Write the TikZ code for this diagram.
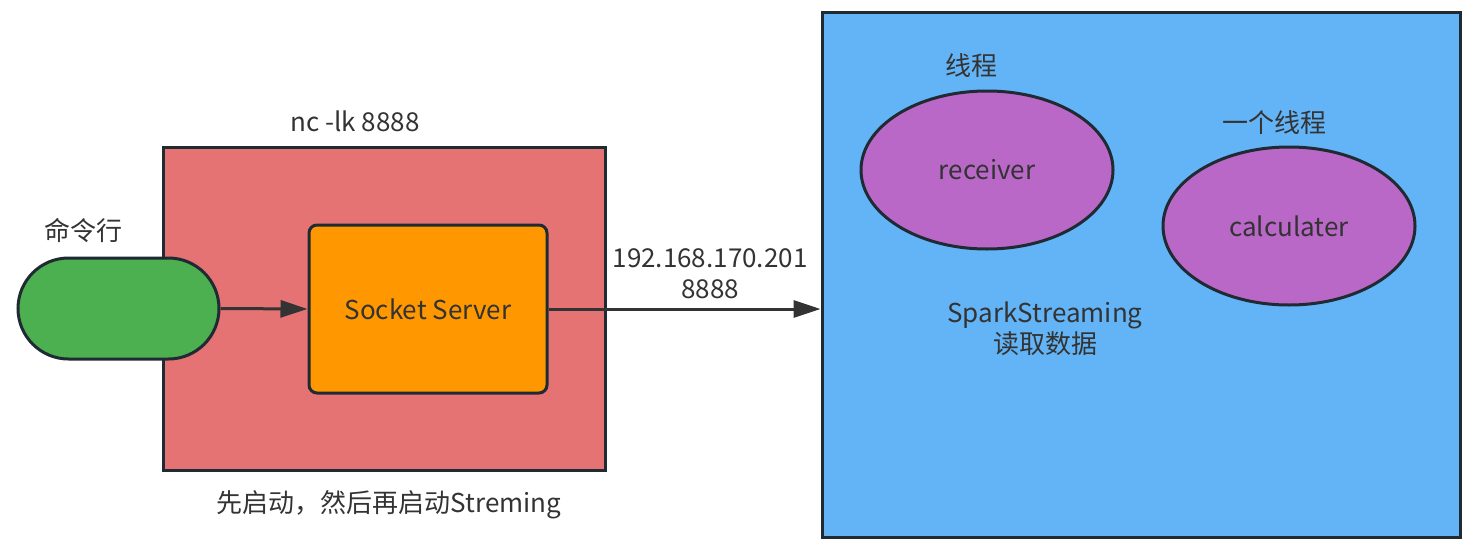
\documentclass[tikz,border=0pt]{standalone}
\usepackage{fontspec}
\setmainfont{Noto Sans CJK SC}
\usetikzlibrary{arrows.meta,shapes.geometric,shapes.misc}
\definecolor{strk}{HTML}{1F2A33}
\definecolor{txt}{HTML}{333333}
\definecolor{redf}{HTML}{E57373}
\definecolor{orgf}{HTML}{FF9800}
\definecolor{grnf}{HTML}{4CAF50}
\definecolor{bluf}{HTML}{63B4F6}
\definecolor{purf}{HTML}{BA68C8}
\tikzset{
  shp/.style={draw=strk, line width=3pt},
  lbl/.style={text=txt, font=\fontsize{26}{31}\selectfont, align=center, inner sep=0pt},
  conn/.style={draw=txt, line width=3pt, -{Triangle[length=27pt,width=17pt]}},
  oval/.style={shp, ellipse, fill=purf, minimum width=252pt, minimum height=158pt, inner sep=0pt}
}
\begin{document}
\begin{tikzpicture}[x=1pt,y=-1pt]
\useasboundingbox (0,0) rectangle (1480,551);
% red container
\node[shp, fill=redf, minimum width=442pt, minimum height=323pt, inner sep=0pt] (red) at (384,308.5) {};
% blue container
\node[shp, fill=bluf, minimum width=638pt, minimum height=524pt, inner sep=0pt] (blue) at (1141,275) {};
% socket server
\node[shp, fill=orgf, rounded corners=8pt, minimum width=238pt, minimum height=168pt, inner sep=0pt] (sock) at (428,309) {};
\node[lbl] at (sock.center) {Socket Server};
% command line stadium
\node[shp, fill=grnf, rounded rectangle, minimum width=201pt, minimum height=101pt, inner sep=0pt] (cmd) at (118.5,308.5) {};
% ellipses
\node[oval] (recv) at (987,170) {};
\node[lbl] at (recv.center) {receiver};
\node[oval] (calc) at (1289,226) {};
\node[lbl] at (calc.center) {calculater};
% connectors
\draw[conn] (cmd.east) -- (sock.west);
\draw[conn] (sock.east) -- (sock.east -| blue.west);
% labels
\node[lbl] (nc) at (355,121) {nc -lk 8888};
\node[lbl] (cmdl) at (83,231) {命令行};
\node[lbl] (ip) at (710,274) {192.168.170.201\\8888};
\node[lbl] (first) at (389,505) {先启动，然后再启动Streming};
\node[lbl] (t1) at (971,66) {线程};
\node[lbl] (t2) at (1274,123) {一个线程};
\node[lbl] (spark) at (1045,329) {SparkStreaming\\读取数据};
\end{tikzpicture}
\end{document}
